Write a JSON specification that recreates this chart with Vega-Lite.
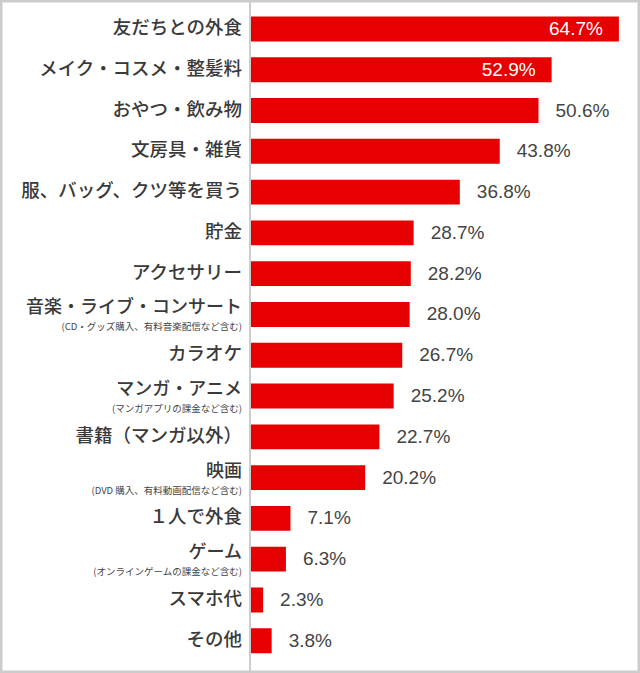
{
  "$schema": "https://vega.github.io/schema/vega-lite/v6.json",
  "width": 640,
  "height": 673,
  "autosize": {"type": "none"},
  "padding": 0,
  "config": {"view": {"stroke": "#cccccc", "strokeWidth": 5}},
  "data": {"values": [
    {"cat": "友だちとの外食", "value": 64.7, "sub": ""},
    {"cat": "メイク・コスメ・整髪料", "value": 52.9, "sub": ""},
    {"cat": "おやつ・飲み物", "value": 50.6, "sub": ""},
    {"cat": "文房具・雑貨", "value": 43.8, "sub": ""},
    {"cat": "服、バッグ、クツ等を買う", "value": 36.8, "sub": ""},
    {"cat": "貯金", "value": 28.7, "sub": ""},
    {"cat": "アクセサリー", "value": 28.2, "sub": ""},
    {"cat": "音楽・ライブ・コンサート", "value": 28.0, "sub": "(CD・グッズ購入、有料音楽配信など含む)"},
    {"cat": "カラオケ", "value": 26.7, "sub": ""},
    {"cat": "マンガ・アニメ", "value": 25.2, "sub": "(マンガアプリの課金など含む)"},
    {"cat": "書籍（マンガ以外）", "value": 22.7, "sub": ""},
    {"cat": "映画", "value": 20.2, "sub": "(DVD 購入、有料動画配信など含む)"},
    {"cat": "１人で外食", "value": 7.1, "sub": ""},
    {"cat": "ゲーム", "value": 6.3, "sub": "(オンラインゲームの課金など含む)"},
    {"cat": "スマホ代", "value": 2.3, "sub": ""},
    {"cat": "その他", "value": 3.8, "sub": ""}
  ]},
  "transform": [{"calculate": "format(datum.value, '.1f') + '%'", "as": "lbl"}],
  "encoding": {
    "y": {"field": "cat", "type": "nominal", "sort": null,
          "scale": {"paddingInner": 0.39, "paddingOuter": 0, "range": [16.5, 653.2]}, "axis": null}
  },
  "layer": [
    {
      "mark": {"type": "bar", "color": "#e60000"},
      "encoding": {
        "x": {"field": "value", "type": "quantitative",
              "scale": {"domain": [0, 68.4], "range": [250, 640], "nice": false, "zero": true}, "axis": null}
      }
    },
    {
      "mark": {"type": "rule", "color": "#cccccc", "strokeWidth": 1},
      "encoding": {"x": {"datum": 0, "type": "quantitative"}, "y": null}
    },
    {
      "transform": [{"filter": "datum.sub == ''"}],
      "mark": {"type": "text", "align": "right", "baseline": "middle", "dx": -8, "dy": -1,
               "font": "Noto Sans CJK JP", "fontWeight": 500, "fontSize": 18.5, "color": "#3a3a3a"},
      "encoding": {"x": {"datum": 0, "type": "quantitative"}, "text": {"field": "cat"}}
    },
    {
      "transform": [{"filter": "datum.sub != ''"}],
      "mark": {"type": "text", "align": "right", "baseline": "middle", "dx": -8, "dy": -6,
               "font": "Noto Sans CJK JP", "fontWeight": 500, "fontSize": 18, "color": "#3a3a3a"},
      "encoding": {"x": {"datum": 0, "type": "quantitative"}, "text": {"field": "cat"}}
    },
    {
      "transform": [{"filter": "datum.sub != ''"}],
      "mark": {"type": "text", "align": "right", "baseline": "middle", "dx": -8, "dy": 13,
               "font": "Noto Sans CJK JP", "fontSize": 9.5, "color": "#444444"},
      "encoding": {"x": {"datum": 0, "type": "quantitative"}, "text": {"field": "sub"}}
    },
    {
      "transform": [{"filter": "datum.value > 52"}],
      "mark": {"type": "text", "align": "right", "baseline": "middle", "dx": -16,
               "font": "Liberation Sans", "fontSize": 19, "color": "#ffffff"},
      "encoding": {
        "x": {"field": "value", "type": "quantitative"},
        "text": {"field": "lbl"}
      }
    },
    {
      "transform": [{"filter": "datum.value <= 52"}],
      "mark": {"type": "text", "align": "left", "baseline": "middle", "dx": 17,
               "font": "Liberation Sans", "fontSize": 19, "color": "#444444"},
      "encoding": {
        "x": {"field": "value", "type": "quantitative"},
        "text": {"field": "lbl"}
      }
    }
  ]
}
